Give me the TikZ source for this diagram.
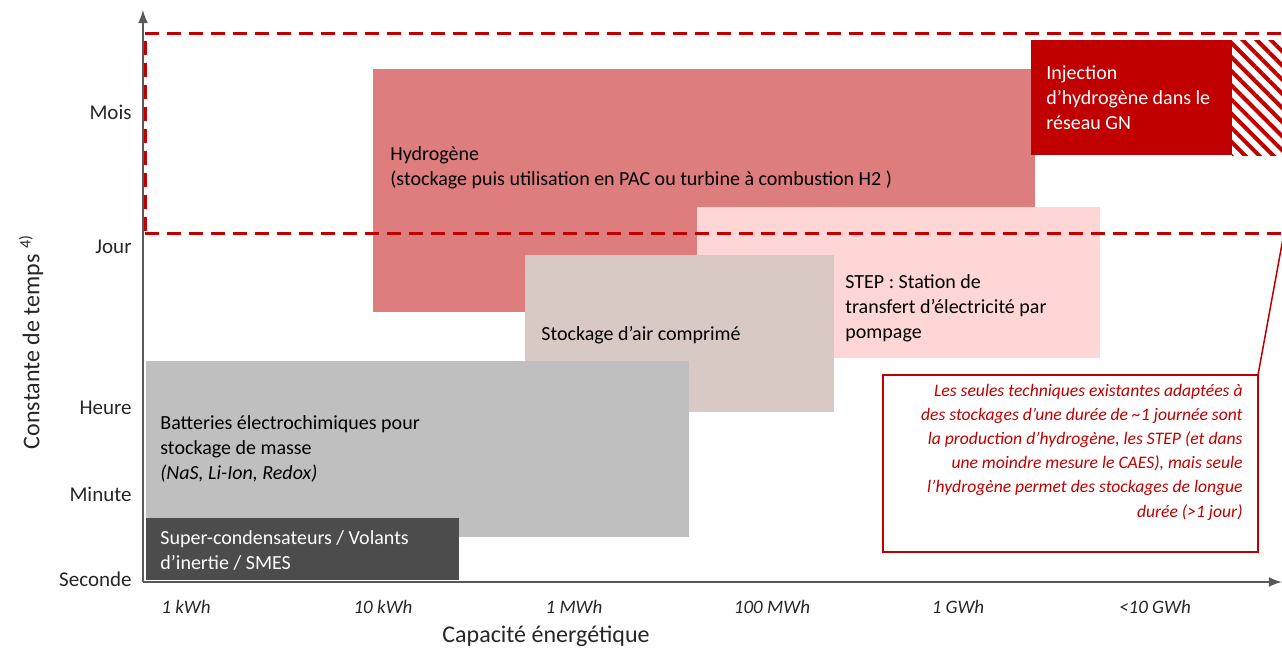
\documentclass[tikz,border=0pt]{standalone}
\usepackage{fontspec}
\setmainfont{Carlito}
\usetikzlibrary{patterns.meta}

\newlength{\du}
\setlength{\du}{0.5pt}

\definecolor{axecolor}{rgb}{0.350000, 0.350000, 0.350000}
\definecolor{rougeGN}{rgb}{0.752941, 0.000000, 0.000000}
\definecolor{h2color}{rgb}{0.870000, 0.490000, 0.490000}
\definecolor{stepcolor}{rgb}{1.000000, 0.840000, 0.840000}
\definecolor{caescolor}{rgb}{0.850000, 0.790000, 0.770000}
\definecolor{battcolor}{rgb}{0.750000, 0.750000, 0.750000}
\definecolor{supercolor}{rgb}{0.300000, 0.300000, 0.300000}

\tikzset{
  zone/.style={inner sep=0pt, outer sep=0pt, anchor=north west},
  etiquette/.style={anchor=west, inner sep=0pt, align=left, font=\fontsize{10}{12.5}\selectfont},
  graduation/.style={anchor=east, inner sep=0pt, font=\fontsize{10.5}{12}\selectfont, text=black!85},
  capacite/.style={inner sep=0pt, font=\fontsize{9.5}{11}\selectfont\itshape, text=black!85},
  titre/.style={inner sep=0pt, font=\fontsize{12}{14}\selectfont, text=black!85},
  axe/.style={draw=axecolor, line width=2.5\du, -latex},
  tirets/.style={draw=rougeGN, line width=3\du, dash pattern=on 14\du off 8\du},
}

\begin{document}
\begin{tikzpicture}
\pgftransformyscale{-1.000000}
\useasboundingbox (0\du,0\du) rectangle (1282\du,650\du);
% zones de stockage
\node[zone, fill=h2color, minimum width=662\du, minimum height=243\du] (h2) at (373\du,69\du) {};
\node[zone, fill=stepcolor, minimum width=403\du, minimum height=151\du] (step) at (697\du,207\du) {};
\node[zone, fill=caescolor, minimum width=309\du, minimum height=157\du] (caes) at (525\du,255\du) {};
\node[zone, fill=battcolor, minimum width=543\du, minimum height=176\du] (batt) at (146\du,361\du) {};
\node[zone, fill=supercolor, minimum width=313\du, minimum height=62\du] (super) at (146\du,518\du) {};
\node[zone, fill=rougeGN, minimum width=201\du, minimum height=115\du] (injection) at (1031\du,40\du) {};
\node[zone, pattern={Lines[angle=-45,distance=5pt,line width=2pt]}, pattern color=rougeGN, minimum width=50\du, minimum height=115\du] (hachures) at (1232\du,40\du) {};
% stockage longue duree
\node[zone, tirets, minimum width=1139\du, minimum height=200\du] (longue) at (145\du,33\du) {};
% textes des zones
\node[etiquette] (h2txt) at (390\du,168\du) {Hydrogène\\(stockage puis utilisation en PAC ou turbine à combustion H2 )};
\node[etiquette, text=white] (injtxt) at (1046\du,98\du) {Injection\\d’hydrogène dans le\\réseau GN};
\node[etiquette] (steptxt) at (845\du,308\du) {STEP : Station de\\transfert d’électricité par\\pompage};
\node[etiquette] (caestxt) at (541\du,335\du) {Stockage d’air comprimé};
\node[etiquette] (batttxt) at (160\du,449\du) {Batteries électrochimiques pour\\stockage de masse\\\textit{(NaS, Li-Ion, Redox)}};
\node[etiquette, text=white] (supertxt) at (160\du,550\du) {Super-condensateurs / Volants\\d’inertie / SMES};
% remarque
\node[zone, draw=rougeGN, line width=1.5\du, fill=white, minimum width=375\du, minimum height=177\du] (note) at (883\du,375\du) {};
\node[anchor=east, inner sep=0pt, align=right, text=rougeGN, font=\fontsize{8.8}{12.1}\selectfont\itshape] (notetxt) at (1243\du,452\du) {Les seules techniques existantes adaptées à\\des stockages d’une durée de \textasciitilde1 journée sont\\la production d’hydrogène, les STEP (et dans\\une moindre mesure le CAES), mais seule\\l’hydrogène permet des stockages de longue\\durée (>1 jour)};
\draw[draw=rougeGN, line width=1.5\du] (note.north east) -- (longue.south east);
% axes
\coordinate (origine) at (143\du,582\du);
\coordinate (ysommet) at (143\du,10\du);
\coordinate (xfin) at (1282\du,582\du);
\draw[axe] (origine) -- (ysommet);
\draw[axe] (origine) -- (xfin);
% graduations
\node[graduation] (mois) at (132\du,112\du) {Mois};
\node[graduation] (jour) at (132\du,247\du) {Jour};
\node[graduation] (heure) at (132\du,408\du) {Heure};
\node[graduation] (minute) at (132\du,494\du) {Minute};
\node[graduation] (seconde) at (132\du,579\du) {Seconde};
\node[capacite] (kwh) at (186\du,607\du) {1 kWh};
\node[capacite] (dixkwh) at (383\du,607\du) {10 kWh};
\node[capacite] (mwh) at (574\du,607\du) {1 MWh};
\node[capacite] (centmwh) at (772\du,607\du) {100 MWh};
\node[capacite] (gwh) at (958\du,607\du) {1 GWh};
\node[capacite] (dixgwh) at (1155\du,607\du) {<10 GWh};
% titres des axes
\node[titre] (xtitre) at (546\du,636\du) {Capacité énergétique};
\node[titre, rotate=90] (ytitre) at (31\du,342\du) {Constante de temps \textsuperscript{4)}};
\end{tikzpicture}
\end{document}
